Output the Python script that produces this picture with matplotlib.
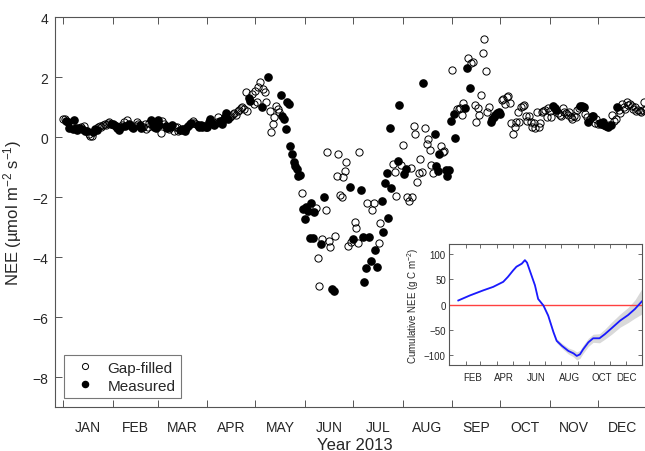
import numpy as np
import matplotlib
matplotlib.use('Agg')
import matplotlib.pyplot as plt
from matplotlib.ticker import FixedLocator, NullFormatter, FixedFormatter

plt.rcParams['font.family'] = ['Liberation Sans', 'DejaVu Sans']
plt.rcParams['mathtext.default'] = 'regular'

# ---- daily NEE 2013 (umol m-2 s-1), M = measured, G = gap-filled ----
months = ['JAN', 'FEB', 'MAR', 'APR', 'MAY', 'JUN', 'JUL', 'AUG', 'SEP', 'OCT', 'NOV', 'DEC']
month_start = [1, 32, 60, 91, 121, 152, 182, 213, 244, 274, 305, 335, 366]

jan_nee = [0.62, 0.60, 0.55, 0.50, 0.30, 0.45, 0.28, 0.58, 0.30, 0.26, 0.30, 0.35, 0.28, 0.38, 0.22, 0.20,
           0.12, 0.06, 0.05, 0.18, 0.28, 0.24, 0.34, 0.38, 0.33, 0.40, 0.44, 0.42, 0.48, 0.50, 0.45]
jan_src = "GGMMMGMMMMMGMGMMGGGMMMGGGGGGGGM"
feb_nee = [0.45, 0.40, 0.38, 0.30, 0.26, 0.35, 0.40, 0.52, 0.38, 0.58, 0.45, 0.42, 0.33, 0.30, 0.38, 0.50,
           0.46, 0.40, 0.32, 0.36, 0.44, 0.27, 0.35, 0.48, 0.58, 0.40, 0.36, 0.32]
feb_src = "MMMMMMGGMGMMMMGGGMMGGGGGMMMM"
mar_nee = [0.58, 0.40, 0.16, 0.55, 0.44, 0.38, 0.30, 0.27, 0.33, 0.40, 0.22, 0.35, 0.33, 0.22, 0.25, 0.28,
           0.24, 0.22, 0.30, 0.38, 0.45, 0.47, 0.54, 0.48, 0.44, 0.42, 0.36, 0.40, 0.34, 0.38, 0.36]
mar_src = "MMGGGMMGMMGGGGMMMMMMMMGGGMMMMMM"
apr_nee = [0.36, 0.50, 0.61, 0.48, 0.40, 0.45, 0.52, 0.67, 0.55, 0.44, 0.58, 0.67, 0.80, 0.62, 0.67, 0.72,
           0.78, 0.82, 0.75, 0.88, 0.92, 0.98, 1.00, 0.95, 1.50, 0.88, 1.30, 1.22, 1.45, 1.10]
apr_src = "MMMMMGGGMMMMMMGGGGGGGGGGGGMMGG"
may_nee = [1.55, 1.17, 1.67, 1.85, 1.00, 1.60, 1.50, 1.17, 2.00, 0.89, 0.17, 0.44, 0.67, 1.05, 0.95, 0.83,
           1.41, 0.72, 0.61, 0.28, 1.17, 1.10, -0.30, -0.56, -0.83, -0.94, -1.06, -1.28, -1.25, -1.87, -2.39]
may_src = "GGGGMGGGMGGGGGGGMMMMMMMMMMMMMGM"
jun_nee = [-2.72, -2.33, -2.44, -3.35, -2.20, -3.35, -2.50, -2.35, -4.02, -4.95, -3.56, -3.40, -2.00, -2.43,
           -0.48, -3.47, -3.67, -5.05, -5.12, -3.28, -1.30, -0.56, -1.92, -2.00, -1.31, -1.13, -0.83, -3.61,
           -1.67, -3.50]
jun_src = "MMMMMMMGGGMGMGGGGMMGGGGGGGGGMG"
jul_nee = [-3.39, -2.83, -3.01, -3.52, -0.48, -1.76, -3.33, -4.81, -4.37, -2.20, -3.33, -4.13, -2.41, -2.19,
           -3.76, -4.31, -3.53, -2.86, -2.11, -3.16, -1.52, -1.20, -2.69, 0.31, -1.69, -0.89, -1.17, -1.94,
           -0.78, 1.08, -0.91]
jul_src = "MGGGGMMMMGMMGGMMGGMMMMMMMGGGMMG"
aug_nee = [-0.25, -1.22, -1.06, -2.00, -2.11, -1.03, -2.00, 0.37, 0.11, -1.50, -1.20, -0.72, -1.17, 1.81,
           0.31, -0.22, -0.06, -0.42, -0.91, -1.19, 0.11, -0.94, -1.11, -0.56, -0.30, -0.50, -0.45, -1.08,
           -1.30, -1.08, 0.55]
aug_src = "GMMGGGGGGGGGGMGGGGGGMMMMGGGMMMM"
sep_nee = [2.25, 0.78, -0.03, 0.94, 0.94, 0.97, 0.74, 1.14, 0.97, 2.31, 2.63, 1.63, 2.48, 2.52, 1.08, 0.52,
           0.97, 0.74, 1.41, 2.80, 3.28, 2.22, 0.85, 1.00, 0.50, 0.60, 0.68, 0.75, 0.80, 0.84]
sep_src = "GMMGGGGGMMGMGGGGGGGGGGGGMMMMMM"
oct_nee = [0.78, 1.25, 1.28, 1.10, 1.33, 1.37, 1.15, 0.48, 0.11, 0.33, 0.50, 0.83, 0.52, 1.00, 1.03, 1.08,
           0.72, 0.55, 0.70, 0.50, 0.33, 0.48, 0.30, 0.85, 0.33, 0.48, 0.83, 0.89, 0.90, 0.67, 0.97]
oct_src = "MGGGGGGGGGGGGGGGGGGGGGGGGGGGGGG"
nov_nee = [0.89, 0.67, 1.05, 0.97, 0.92, 0.80, 0.75, 0.70, 0.97, 0.85, 0.80, 0.75, 0.85, 0.67, 0.60, 0.72,
           0.67, 0.90, 0.97, 1.05, 1.05, 1.00, 0.78, 0.67, 0.50, 0.62, 0.70, 0.70, 0.47, 0.60]
nov_src = "GGMMMGGGGGGGGGGGGGGMMMGGMGGMGG"
dec_nee = [0.45, 0.47, 0.44, 0.50, 0.40, 0.38, 0.33, 0.42, 0.40, 0.75, 0.55, 0.60, 1.00, 0.90, 0.80, 1.11,
           1.00, 0.94, 1.17, 1.08, 1.10, 1.03, 0.95, 1.00, 0.88, 0.90, 0.88, 0.85, 0.92, 1.17, 0.95]
dec_src = "GMMMMMMGMGGGMGGGGGGGGGGGGGGGGGG"

# ---- cumulative NEE (g C m-2) with uncertainty ----
cum_doy = [18, 40, 65, 84, 103, 112, 122, 128, 138, 144, 148, 153, 163, 169, 179, 188, 198, 204, 214, 226,
           236, 242, 248, 254, 264, 273, 285, 295, 308, 324, 339, 352, 365]
cum_nee = [8, 18, 28, 35, 45, 55, 68, 75, 81, 88, 83, 68, 38, 11, -2, -22, -55, -72, -82, -92,
           -97, -102, -99, -89, -75, -67, -67, -59, -47, -32, -21, -9, 6]
cum_err = [0.5, 0.5, 0.5, 0.5, 0.5, 0.5, 0.7, 0.8, 1, 1, 1, 1.5, 2, 2, 2.5, 3, 3.5, 4, 5, 6,
           7, 8, 8, 8, 8, 8, 9, 10, 12, 13, 15, 18, 25]
inset_months = ['FEB', 'APR', 'JUN', 'AUG', 'OCT', 'DEC']
inset_label_doy = [46, 105, 166, 228, 289, 337]

nee = np.array(jan_nee + feb_nee + mar_nee + apr_nee + may_nee + jun_nee +
               jul_nee + aug_nee + sep_nee + oct_nee + nov_nee + dec_nee)
src = np.array(list(jan_src + feb_src + mar_src + apr_src + may_src + jun_src +
                    jul_src + aug_src + sep_src + oct_src + nov_src + dec_src))
doy = np.arange(1, len(nee) + 1)
meas = src == 'M'

txt = '#262626'
edge = '#555555'

fig = plt.figure(figsize=(6.45, 4.52), dpi=100)
ax = fig.add_axes([55 / 645, 43.7 / 452, 599 / 645, 390 / 452])

ax.plot(doy[~meas], nee[~meas], 'o', mfc='none', mec='k', ms=5.2, mew=0.7, label='Gap-filled')
ax.plot(doy[meas], nee[meas], 'o', mfc='k', mec='k', ms=5.2, label='Measured')

ax.set_xlim(-4, 370)
ax.set_ylim(-9, 4)
ax.set_yticks([-8, -6, -4, -2, 0, 2, 4])
ax.xaxis.set_major_locator(FixedLocator(month_start))
ax.xaxis.set_major_formatter(NullFormatter())
mid = [(a + b) / 2 for a, b in zip(month_start[:-1], month_start[1:])]
ax.xaxis.set_minor_locator(FixedLocator(mid))
ax.xaxis.set_minor_formatter(FixedFormatter(months))
ax.tick_params(axis='both', which='major', direction='in', length=5, width=0.7, color=edge,
               top=True, right=True, labelsize=10, labelcolor=txt)
ax.tick_params(axis='x', which='minor', length=0, pad=9, labelsize=10, labelcolor=txt)
ax.tick_params(axis='y', pad=5)
for s in ax.spines.values():
    s.set_color(edge)
    s.set_linewidth(0.8)

ax.set_xlabel('Year 2013', fontsize=12, color=txt, labelpad=2)
ax.set_ylabel('NEE (µmol m$^{-2}$ s$^{-1}$)', fontsize=12, color=txt, labelpad=6)

leg = ax.legend(loc='lower left', bbox_to_anchor=(64 / 645, 53 / 452), bbox_transform=fig.transFigure,
                fancybox=False, fontsize=11, borderaxespad=0, handletextpad=0.5, labelspacing=0.25,
                borderpad=0.35, markerscale=0.85)
leg.get_frame().set_edgecolor(edge)
leg.get_frame().set_linewidth(0.8)
for t in leg.get_texts():
    t.set_color(txt)

# inset: cumulative NEE
axin = fig.add_axes([449.3 / 645, 86 / 452, 193 / 645, 121 / 452])
lo = np.array(cum_nee) - np.array(cum_err)
hi = np.array(cum_nee) + np.array(cum_err)
axin.fill_between(cum_doy, lo, hi, color='#d9d9d9', lw=0)
axin.axhline(0, color='#ff4040', lw=1.0)
axin.plot(cum_doy, cum_nee, color='#1a1aff', lw=1.3)
axin.set_xlim(1, 366)
axin.set_ylim(-120, 120)
axin.set_yticks([-100, -50, 0, 50, 100])
axin.xaxis.set_major_locator(FixedLocator(month_start[1:-1]))
axin.xaxis.set_major_formatter(NullFormatter())
axin.xaxis.set_minor_locator(FixedLocator(inset_label_doy))
axin.xaxis.set_minor_formatter(FixedFormatter(inset_months))
axin.tick_params(axis='both', which='major', direction='in', length=3, width=0.6, color=edge,
                 top=True, right=True, labelsize=7, labelcolor=txt, pad=2.5)
axin.tick_params(axis='x', which='minor', length=0, pad=5, labelsize=7, labelcolor=txt)
for s in axin.spines.values():
    s.set_color(edge)
    s.set_linewidth(0.8)
axin.set_ylabel('Cumulative NEE (g C m$^{-2}$)', fontsize=7, color=txt, labelpad=2)

fig.savefig('out.png', dpi=100)
